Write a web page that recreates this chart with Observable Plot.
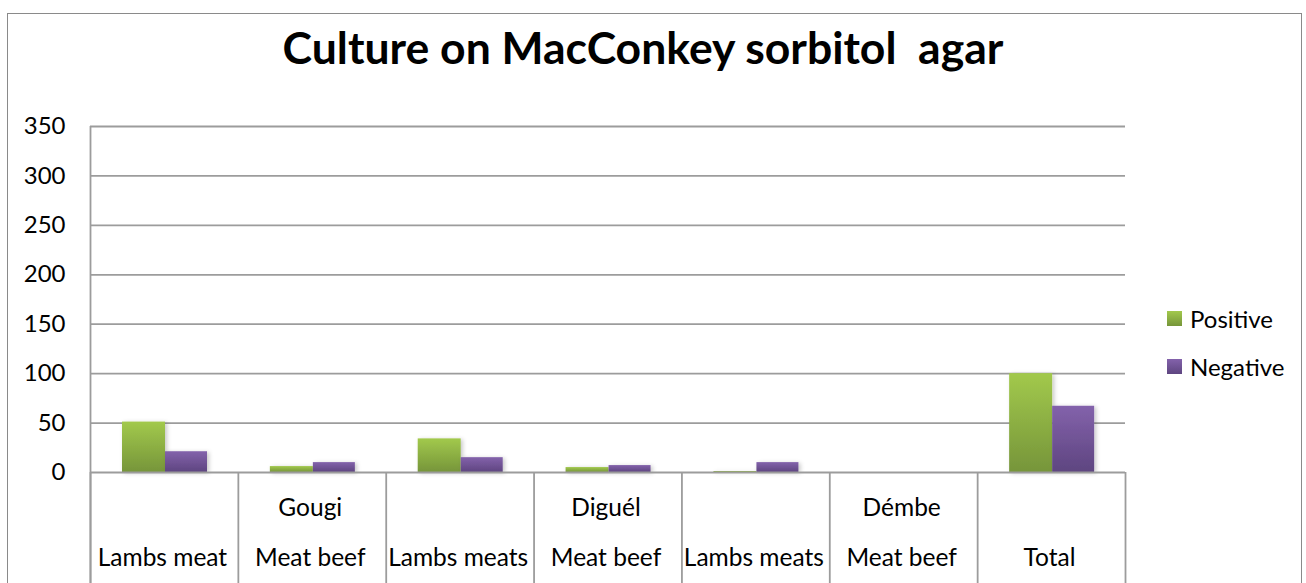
<!DOCTYPE html>
<html>
<head>
<meta charset="utf-8">
<script src="https://cdn.jsdelivr.net/npm/d3@7"></script>
<script src="https://cdn.jsdelivr.net/npm/@observablehq/plot@0.6"></script>
<style>
  html, body { margin: 0; padding: 0; background: #fff; }
  #wrap { position: relative; width: 1306px; height: 583px; overflow: hidden; font-family: Lato, "Open Sans", sans-serif; color: #000; }
  #frame { position: absolute; left: 7px; top: 13px; width: 1295px; height: 600px; border: 1.5px solid #8a8a8a; border-bottom: none; box-sizing: border-box; }
  #title { position: absolute; left: 0; width: 1286px; top: 21px; text-align: center; font-weight: 700; font-size: 44.5px; white-space: pre; line-height: 52px; }
  .legend-item { position: absolute; left: 1167px; display: flex; align-items: center; font-size: 24px; }
  .sw { width: 15px; height: 15px; margin-right: 8px; }
  #chart { position: absolute; left: 0; top: 0; }
</style>
</head>
<body>
<div id="wrap">
  <div id="frame"></div>
  <div id="chart"></div>
  <div id="title"></div>
  <div id="legend"></div>
</div>
<script>
// Sample groups: upper label line (site) and lower label line (meat type)
const groupTop = ["", "Gougi", "", "Diguél", "", "Démbe", ""];
const groupBottom = ["Lambs meat", "Meat beef", "Lambs meats", "Meat beef", "Lambs meats", "Meat beef", "Total"];
// Culture results per group
const positive = [51, 6, 34, 5, 1, 0, 100];
const negative = [21, 10, 15, 7, 10, 0, 67];
const seriesNames = ["Positive", "Negative"];
const yTicks = [0, 50, 100, 150, 200, 250, 300, 350];
const titleText = "Culture on MacConkey sorbitol  agar";

const keys = groupBottom.map((_, i) => i);
const groups = keys.map(i => ({key: i, top: groupTop[i], bottom: groupBottom[i]}));
const posRows = keys.map(i => ({key: i, series: seriesNames[0], value: positive[i]}));
const negRows = keys.map(i => ({key: i, series: seriesNames[1], value: negative[i]}));

const W = 1306, H = 583;
const mL = 90, mR = 181, mT = 126, mB = 111;
const bw = (W - mL - mR) / keys.length;
const grid = "#9c9c9c";

const chart = Plot.plot({
  width: W,
  height: H,
  marginLeft: mL,
  marginRight: mR,
  marginTop: mT,
  marginBottom: mB,
  style: {fontFamily: "Lato, 'Open Sans', sans-serif", fontSize: "24px", color: "#000", background: "transparent", overflow: "visible"},
  x: {type: "band", domain: keys, paddingInner: 0, paddingOuter: 0, round: false, axis: null},
  y: {domain: [0, 350], axis: null},
  marks: [
    Plot.gridY(yTicks.slice(1), {stroke: grid, strokeOpacity: 1, strokeWidth: 1.8}),
    // category separators below the baseline
    Plot.ruleX(groups, {x: "key", dx: -bw / 2, y1: 0, y2: -115, stroke: grid, strokeWidth: 1.8}),
    Plot.ruleX(groups.slice(-1), {x: "key", dx: bw / 2, y1: 0, y2: -115, stroke: grid, strokeWidth: 1.8}),
    // vertical axis line
    Plot.ruleX(groups.slice(0, 1), {x: "key", dx: -bw / 2, y1: 350, y2: -115, stroke: grid, strokeWidth: 1.8}),
    Plot.barY(posRows, {x: "key", y: "value", fill: "url(#gradPos)", insetLeft: 32, insetRight: bw - 75}),
    Plot.barY(negRows, {x: "key", y: "value", fill: "url(#gradNeg)", insetLeft: 75, insetRight: bw - 117}),
    Plot.ruleY([0], {stroke: grid, strokeWidth: 1.8}),
    Plot.axisY({ticks: yTicks, tickSize: 0, tickPadding: 25, fontSize: 24, label: null}),
    Plot.text(groups, {x: "key", text: "top", frameAnchor: "bottom", dx: -2, dy: 36, lineAnchor: "middle", fontSize: 24.5}),
    Plot.text(groups, {x: "key", text: "bottom", frameAnchor: "bottom", dx: -2, dy: 86, lineAnchor: "middle", fontSize: 24.5})
  ]
});

// gradient fills and soft shadow for the bars
const svg = d3.select(chart);
const defs = svg.insert("defs", ":first-child");
const grads = [["gradPos", "#a2c94c", "#76953a"], ["gradNeg", "#8362ab", "#5e4580"]];
for (const [id, c0, c1] of grads) {
  const g = defs.append("linearGradient").attr("id", id).attr("x1", 0).attr("y1", 0).attr("x2", 0).attr("y2", 1);
  g.append("stop").attr("offset", "0%").attr("stop-color", c0);
  g.append("stop").attr("offset", "100%").attr("stop-color", c1);
}
const f = defs.append("filter").attr("id", "barShadow").attr("x", "-20%").attr("y", "-20%").attr("width", "150%").attr("height", "150%");
f.append("feDropShadow").attr("dx", 2).attr("dy", 1).attr("stdDeviation", 2).attr("flood-color", "#000").attr("flood-opacity", 0.22);
svg.selectAll("g[aria-label='bar']").attr("filter", "url(#barShadow)");

document.getElementById("chart").appendChild(chart);
document.getElementById("title").textContent = titleText;

const legend = document.getElementById("legend");
const legendTops = [304, 352];
const legendFills = ["linear-gradient(#a2c94c, #76953a)", "linear-gradient(#8362ab, #5e4580)"];
seriesNames.forEach((name, i) => {
  const item = document.createElement("div");
  item.className = "legend-item";
  item.style.top = legendTops[i] + "px";
  const sw = document.createElement("div");
  sw.className = "sw";
  sw.style.background = legendFills[i];
  const label = document.createElement("span");
  label.textContent = name;
  item.appendChild(sw);
  item.appendChild(label);
  legend.appendChild(item);
});
</script>
</body>
</html>
